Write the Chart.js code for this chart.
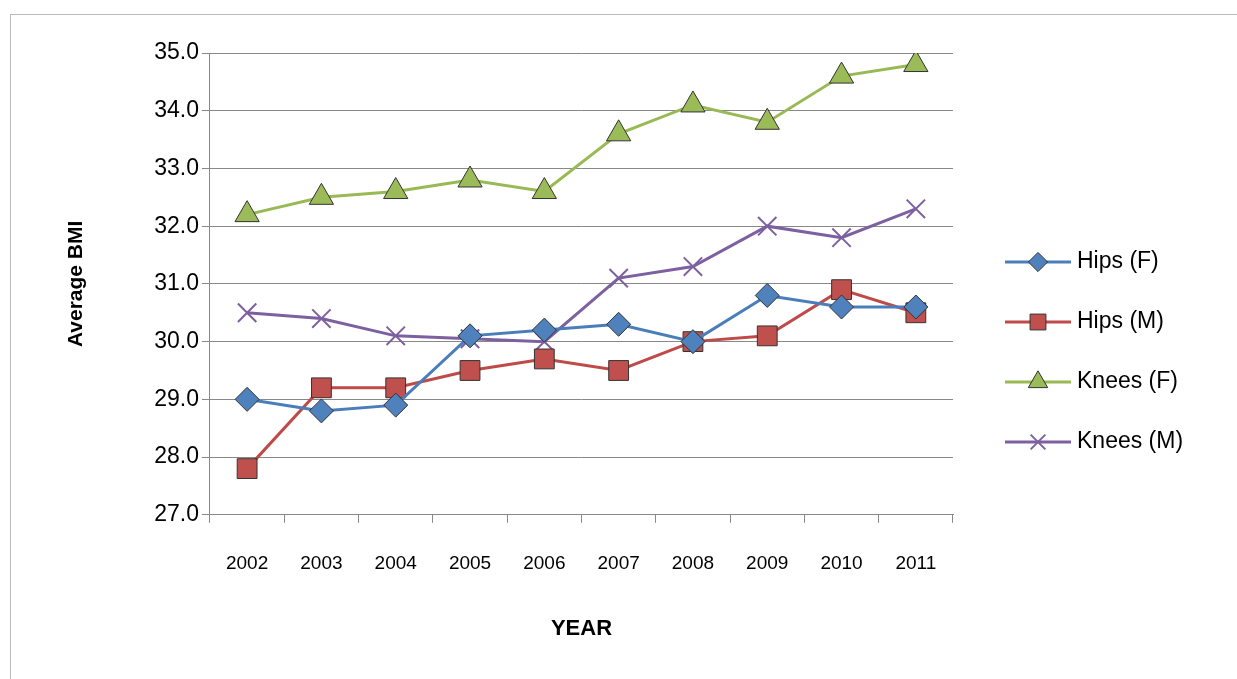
<!DOCTYPE html>
<html><head><meta charset="utf-8">
<script src="https://cdn.jsdelivr.net/npm/chart.js@4"></script>
<style>
body{margin:0;background:#fff;}
#frame{position:absolute;left:10px;top:14px;width:1240px;height:680px;border:1px solid #bbb;}
#wrap{position:absolute;left:0;top:0;width:1237px;height:679px;}
</style></head>
<body><div id="frame"></div><div id="wrap"><canvas id="c"></canvas></div>
<script>
const years    = ["2002","2003","2004","2005","2006","2007","2008","2009","2010","2011"];
const hipsF    = [29.0, 28.8, 28.9, 30.1, 30.2, 30.3, 30.0, 30.8, 30.6, 30.6];
const hipsM    = [27.8, 29.2, 29.2, 29.5, 29.7, 29.5, 30.0, 30.1, 30.9, 30.5];
const kneesF   = [32.2, 32.5, 32.6, 32.8, 32.6, 33.6, 34.1, 33.8, 34.6, 34.8];
const kneesM   = [30.5, 30.4, 30.1, 30.05, 30.0, 31.1, 31.3, 32.0, 31.8, 32.3];

const font = "'Liberation Sans', sans-serif";

function ds(label, data, color, fill, style, r) {
    return {
        label, data,
        borderColor: color, borderWidth: 3,
        pointStyle: style, pointRadius: r, pointBorderColor: '#333',
        pointBackgroundColor: fill, pointBorderWidth: 1, tension: 0
    };
}

const sets = [
    ds("Hips (F)",  hipsF,  "#4a7ebb", "#4f81bd", "rectRot", 12),
    ds("Hips (M)",  hipsM,  "#be4b48", "#c0504d", "rect",    14),
    ds("Knees (F)", kneesF, "#98b954", "#9bbb59", "triangle",14),
    ds("Knees (M)", kneesM, "#7d60a0", "#7d60a0", "crossRot",13)
];
sets[3].pointBorderWidth = 2;
sets[3].pointBorderColor = "#7d60a0";

const legendPlugin = {
    id: 'sideLegend',
    afterDraw(chart) {
        const c = chart.ctx;
        chart.data.datasets.forEach((d, i) => {
            const y = 262 + i * 60, x0 = 1005, x1 = 1071;
            c.save();
            c.strokeStyle = d.borderColor; c.lineWidth = 3;
            c.beginPath(); c.moveTo(x0, y); c.lineTo(x1, y); c.stroke();
            c.fillStyle = d.pointBackgroundColor; c.strokeStyle = d.pointBorderColor; c.lineWidth = d.pointBorderWidth;
            Chart.helpers.drawPoint(c, {pointStyle: d.pointStyle, radius: d.pointRadius * 0.8, borderWidth: d.pointBorderWidth}, (x0 + x1) / 2, y);
            c.fillStyle = "#000"; c.font = "23px " + font; c.textBaseline = "middle";
            c.fillText(d.label, 1077, y);
            c.restore();
        });
    }
};

new Chart(document.getElementById('c'), {
    type: 'line',
    data: { labels: years, datasets: sets },
    plugins: [legendPlugin],
    options: {
        responsive: true, maintainAspectRatio: false, animation: false,
        layout: { padding: { left: 60, right: 284, top: 53, bottom: 33 } },
        plugins: { legend: { display: false }, tooltip: { enabled: false } },
        scales: {
            x: {
                offset: true,
                grid: { offset: true, drawOnChartArea: false, tickLength: 8, color: '#888' },
                border: { color: '#888' },
                ticks: { color: '#000', font: { size: 19, family: font }, padding: 30 },
                title: { display: true, text: 'YEAR', color: '#000', font: { size: 22, weight: 'bold', family: font }, padding: { top: 10 } }
            },
            y: {
                min: 27, max: 35,
                grid: { color: '#888', tickLength: 8 },
                border: { color: '#888' },
                ticks: { stepSize: 1, color: '#000', font: { size: 23, family: font }, callback: v => v.toFixed(1) },
                title: { display: true, text: 'Average BMI', color: '#000', font: { size: 21, weight: 'bold', family: font }, padding: { bottom: 62 } }
            }
        }
    }
});
</script></body></html>
